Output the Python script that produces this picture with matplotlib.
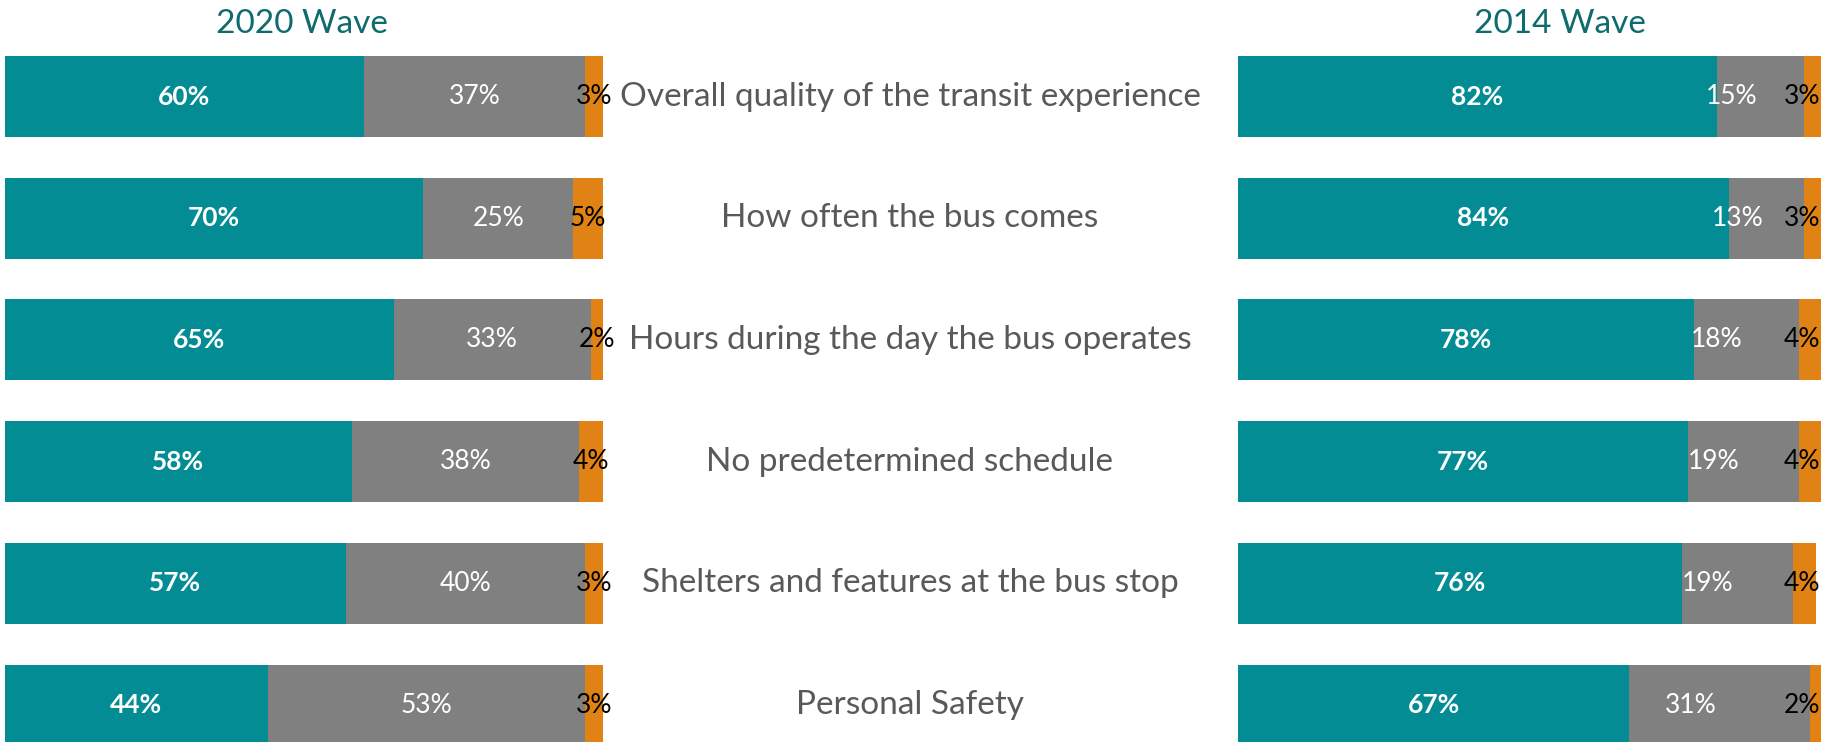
import matplotlib
matplotlib.use("Agg")
import matplotlib.pyplot as plt

plt.rcParams['font.family'] = ['Lato', 'DejaVu Sans']

categories = [
    "Overall quality of the transit experience",
    "How often the bus comes",
    "Hours during the day the bus operates",
    "No predetermined schedule",
    "Shelters and features at the bus stop",
    "Personal Safety",
]

# 2020 wave: satisfied / neutral / dissatisfied (%)
sat_2020 = [60, 70, 65, 58, 57, 44]
neu_2020 = [37, 25, 33, 38, 40, 53]
dis_2020 = [3, 5, 2, 4, 3, 3]

# 2014 wave
sat_2014 = [82, 84, 78, 77, 76, 67]
neu_2014 = [15, 13, 18, 19, 19, 31]
dis_2014 = [3, 3, 4, 4, 4, 2]

TEAL = "#038c94"
GREY = "#808080"
ORANGE = "#e08214"
TITLE = "#0e6b6e"
LABEL = "#595959"

W, H = 1821, 742
fig = plt.figure(figsize=(W / 100, H / 100), dpi=100)

def draw_wave(ax, sat, neu, dis, grey_shift=0.0, right_edge=False):
    rows = range(len(sat))
    left2 = [a for a in sat]
    left3 = [a + b for a, b in zip(sat, neu)]
    ax.barh(rows, sat, height=0.665, color=TEAL, edgecolor="none")
    ax.barh(rows, neu, left=left2, height=0.665, color=GREY, edgecolor="none")
    ax.barh(rows, dis, left=left3, height=0.665, color=ORANGE, edgecolor="none")
    for i in rows:
        ax.text(sat[i] / 2, i, f"{sat[i]}%", ha="center", va="center",
                color="white", fontsize=19, fontweight="bold")
        ax.text(left2[i] + neu[i] / 2 + grey_shift, i, f"{neu[i]}%", ha="center",
                va="center", color="white", fontsize=19)
        if right_edge:
            ax.text(99.7, i, f"{dis[i]}%", ha="right", va="center",
                    color="black", fontsize=19)
        else:
            ax.text(left3[i] + dis[i] / 2, i, f"{dis[i]}%", ha="center",
                    va="center", color="black", fontsize=19)
    ax.set_xlim(0, 100)
    ax.set_ylim(5.304, -0.793)
    ax.axis("off")

ax1 = fig.add_axes([4.6 / W, 0, (603 - 4.6) / W, 1])
draw_wave(ax1, sat_2020, neu_2020, dis_2020)

ax2 = fig.add_axes([1238 / W, 0, 584 / W, 1])
draw_wave(ax2, sat_2014, neu_2014, dis_2014, grey_shift=-5.0, right_edge=True)

fig.text(302 / W, 1 - 24 / H, "2020 Wave", ha="center", va="center",
         color=TITLE, fontsize=24)
fig.text(1560 / W, 1 - 24 / H, "2014 Wave", ha="center", va="center",
         color=TITLE, fontsize=24)

for i, cat in enumerate(categories):
    y = 96.5 + 121.7 * i
    fig.text(910 / W, 1 - y / H, cat, ha="center", va="center",
             color=LABEL, fontsize=24)

fig.savefig("out.png", dpi=100)
